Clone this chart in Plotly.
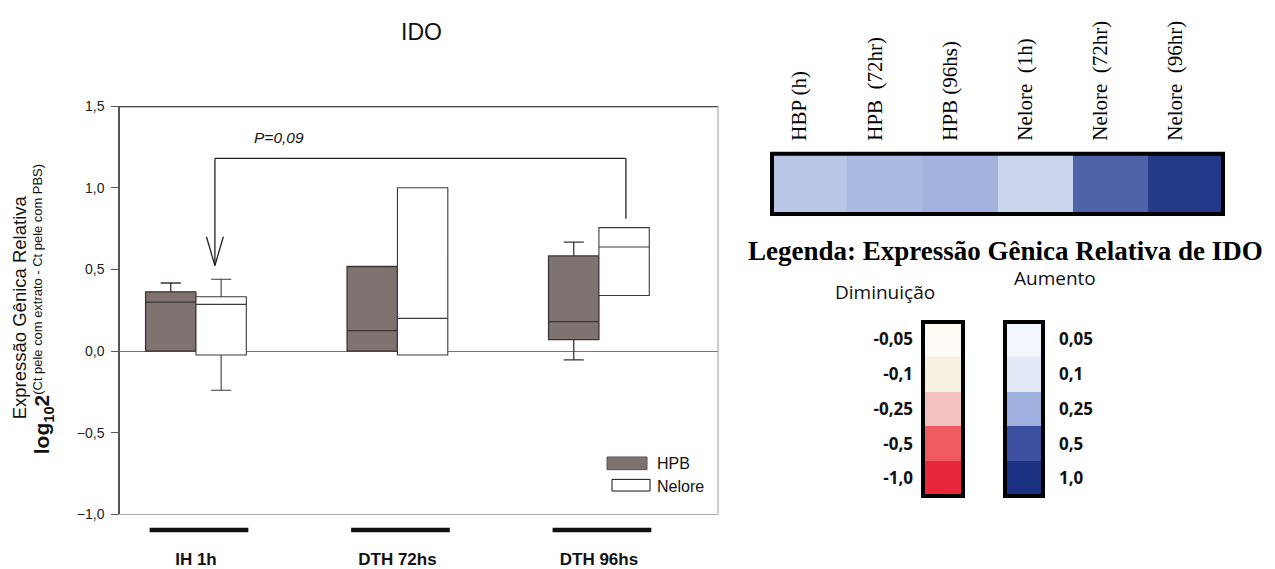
import plotly.graph_objects as go

W, H = 1275, 569


def px(x):
    return x / W


def py(y):
    return 1 - y / H


# ---------------- data ----------------
categories = ['IH 1h', 'DTH 72hs', 'DTH 96hs']
series_names = ['HPB', 'Nelore']

hpb_q1 = [0.0, 0.0, 0.07]
hpb_median = [0.30, 0.125, 0.18]
hpb_q3 = [0.363, 0.518, 0.583]
hpb_lower = [0.0, 0.0, -0.054]
hpb_upper = [0.417, 0.518, 0.667]

nel_q1 = [-0.024, -0.024, 0.34]
nel_median = [0.286, 0.20, 0.637]
nel_q3 = [0.333, 1.0, 0.756]
nel_lower = [-0.24, -0.024, 0.34]
nel_upper = [0.44, 1.0, 0.756]

y_ticks = [-1.0, -0.5, 0.0, 0.5, 1.0, 1.5]
p_value_label = 'P=0,09'

heat_labels = ['HBP (h)', 'HPB\u00a0\u00a0(72hr)', 'HPB (96hs)',
               'Nelore\u00a0\u00a0(1h)', 'Nelore\u00a0\u00a0(72hr)', 'Nelore\u00a0\u00a0(96hr)']
heat_values = [0.19, 0.22, 0.24, 0.15, 0.45, 0.85]

red_levels = [-0.05, -0.1, -0.25, -0.5, -1.0]
red_labels = ['-0,05', '-0,1', '-0,25', '-0,5', '-1,0']
red_colors = ['#fdfaf6', '#f8f1e2', '#f5c2c2', '#ee5a60', '#e8283a']

blue_levels = [0.05, 0.1, 0.25, 0.5, 1.0]
blue_labels = ['0,05', '0,1', '0,25', '0,5', '1,0']
blue_colors = ['#f3f5fc', '#e2e8f6', '#9dafdc', '#3c509f', '#1a3080']

# ---------------- colour scales ----------------
blue_scale = [[0.0, '#ffffff']] + [[lv, c] for lv, c in zip(blue_levels, blue_colors)]
red_scale = sorted([[1 + lv, c] for lv, c in zip(red_levels, red_colors)] + [[1.0, '#ffffff']])

HPB_FILL = '#7e7371'
SANS = 'Liberation Sans, Arial, sans-serif'
SERIF = 'Liberation Serif, Times New Roman, serif'
CAL = 'Open Sans, Lato, sans-serif'

fig = go.Figure()

fig.add_trace(go.Box(
    x=categories, q1=hpb_q1, median=hpb_median, q3=hpb_q3,
    lowerfence=hpb_lower, upperfence=hpb_upper, name=series_names[0],
    fillcolor=HPB_FILL, line=dict(color='#3a3433', width=1.3),
    whiskerwidth=0.4, showlegend=False, hoverinfo='skip',
    xaxis='x', yaxis='y'))
fig.add_trace(go.Box(
    x=categories, q1=nel_q1, median=nel_median, q3=nel_q3,
    lowerfence=nel_lower, upperfence=nel_upper, name=series_names[1],
    fillcolor='#ffffff', line=dict(color='#3a3a3a', width=1.1),
    whiskerwidth=0.4, showlegend=False, hoverinfo='skip',
    xaxis='x', yaxis='y'))

fig.add_trace(go.Heatmap(
    z=[heat_values], x=heat_labels, y=[0], colorscale=blue_scale,
    zmin=0, zmax=1, showscale=False, xaxis='x2', yaxis='y2', hoverinfo='skip'))

fig.add_trace(go.Heatmap(
    z=[[v] for v in red_levels], x=[0], y=list(range(len(red_levels))),
    colorscale=red_scale, zmin=-1, zmax=0, showscale=False,
    xaxis='x3', yaxis='y3', hoverinfo='skip'))

fig.add_trace(go.Heatmap(
    z=[[v] for v in blue_levels], x=[0], y=list(range(len(blue_levels))),
    colorscale=blue_scale, zmin=0, zmax=1, showscale=False,
    xaxis='x4', yaxis='y4', hoverinfo='skip'))

# ---------------- shapes ----------------
shapes = []
line_c = '#222222'
# frame
shapes.append(dict(type='line', xref='x domain', yref='y', x0=0, x1=1, y0=1.5, y1=1.5,
                   line=dict(color='#111111', width=2)))
shapes.append(dict(type='line', xref='x domain', yref='y domain', x0=1, x1=1, y0=0, y1=1,
                   line=dict(color='#999999', width=1)))
# significance bracket
bx0, bx1, by, by_r, tip, vtop, vw = 0.094, 2.134, 1.18, 0.81, 0.524, 0.70, 0.042
for (a, b, c, d) in [(bx0, by, bx1, by), (bx1, by, bx1, by_r), (bx0, by, bx0, tip),
                     (bx0 - vw, vtop, bx0, tip), (bx0 + vw, vtop, bx0, tip)]:
    shapes.append(dict(type='line', xref='x', yref='y', x0=a, y0=b, x1=c, y1=d,
                       line=dict(color=line_c, width=1.3)))
# black bars under the categories
for i, _ in enumerate(categories):
    shapes.append(dict(type='line', xref='x', yref='paper', x0=i - 0.23, x1=i + 0.26,
                       y0=py(537), y1=py(537), line=dict(color='#111111', width=4.5)))
# manual legend swatches
shapes.append(dict(type='rect', xref='paper', yref='paper', x0=px(607), x1=px(647),
                   y0=py(475), y1=py(462), fillcolor=HPB_FILL, line=dict(color='#555555', width=1)))
shapes.append(dict(type='rect', xref='paper', yref='paper', x0=px(612), x1=px(650),
                   y0=py(497), y1=py(485), fillcolor='#ffffff', line=dict(color='#111111', width=1)))
# thick borders around heat strips
for ax in ['2', '3', '4']:
    shapes.append(dict(type='rect', xref='x%s domain' % ax, yref='y%s domain' % ax,
                       x0=0, x1=1, y0=0, y1=1, line=dict(color='#000000', width=4)))


def note(text, x, y, size, family=SANS, color='#111111', xref='paper', yref='paper', **kw):
    d = dict(text=text, x=x, y=y, xref=xref, yref=yref, showarrow=False,
             xanchor='center', yanchor='middle',
             font=dict(family=family, size=size, color=color))
    d.update(kw)
    return d


annotations = [
    note('IDO', px(421), py(25), 23),
    note('<i>%s</i>' % p_value_label, 0.41, 1.31, 15.5, xref='x', yref='y'),
    note(series_names[0], px(655), py(469), 16, xanchor='left'),
    note(series_names[1], px(655), py(492), 16, xanchor='left'),
    note('Expressão Gênica Relativa', px(19), py(308), 18.5, textangle=-90),
    note('<span style="font-size:21px"><b>log<sub>10</sub>2</b></span>'
         '<sup>(Ct pele com extrato - Ct pele com PBS)</sup>',
         px(43), py(310), 18.5, textangle=-90),
    note('<b>Legenda: Expressão Gênica Relativa de IDO</b>', px(1005), py(250), 27,
         family=SERIF, color='#000000'),
    note('Diminuição', px(885), py(292), 19, family=CAL),
    note('Aumento', px(1055), py(278), 19, family=CAL),
]

fig.update_layout(
    width=W, height=H,
    margin=dict(l=0, r=0, t=0, b=0),
    paper_bgcolor='white', plot_bgcolor='white',
    separators=',.',
    boxmode='group', boxgap=0.5, boxgroupgap=0.0,
    showlegend=False,
    shapes=shapes, annotations=annotations,
    xaxis=dict(domain=[px(120), px(718)], type='category', range=[-0.377, 2.591],
               anchor='y', showline=True, linecolor='#aaaaaa', linewidth=1,
               ticks='', showgrid=False, zeroline=False, ticklabelstandoff=29,
               tickfont=dict(family=SANS, size=17, color='#111111', weight='bold')),
    yaxis=dict(domain=[py(521), py(101)], range=[-1.0, 1.5], anchor='x',
               tickvals=y_ticks, tickformat='.1f', ticks='outside', ticklen=7,
               tickcolor='#555555', showline=True, linecolor='#555555', linewidth=1.5,
               showgrid=False, zeroline=True, zerolinecolor='#777777', zerolinewidth=1,
               ticklabelstandoff=4,
               tickfont=dict(family=SANS, size=14, color='#222222')),
    xaxis2=dict(domain=[px(772), px(1223)], anchor='y2', side='top', tickangle=-90,
                ticks='', showline=False, showgrid=False, zeroline=False,
                ticklabelstandoff=12, ticklabelshift=-10,
                tickfont=dict(family=SERIF, size=21, color='#000000')),
    yaxis2=dict(domain=[py(212), py(150)], anchor='x2', visible=False),
    xaxis3=dict(domain=[px(923), px(963)], anchor='y3', visible=False),
    yaxis3=dict(domain=[py(502), py(323)], anchor='x3', side='left', autorange='reversed',
                tickvals=list(range(len(red_labels))), ticktext=red_labels, ticks='',
                showline=False, showgrid=False, zeroline=False, ticklabelstandoff=9,
                tickfont=dict(family=CAL, size=17, color='#111111', weight='bold')),
    xaxis4=dict(domain=[px(1005), px(1043)], anchor='y4', side='bottom', visible=False),
    yaxis4=dict(domain=[py(502), py(323)], anchor='x4', side='right', autorange='reversed',
                tickvals=list(range(len(blue_labels))), ticktext=blue_labels, ticks='',
                showline=False, showgrid=False, zeroline=False, ticklabelstandoff=15,
                tickfont=dict(family=CAL, size=17, color='#111111', weight='bold')),
)

fig.write_html('out.html')
